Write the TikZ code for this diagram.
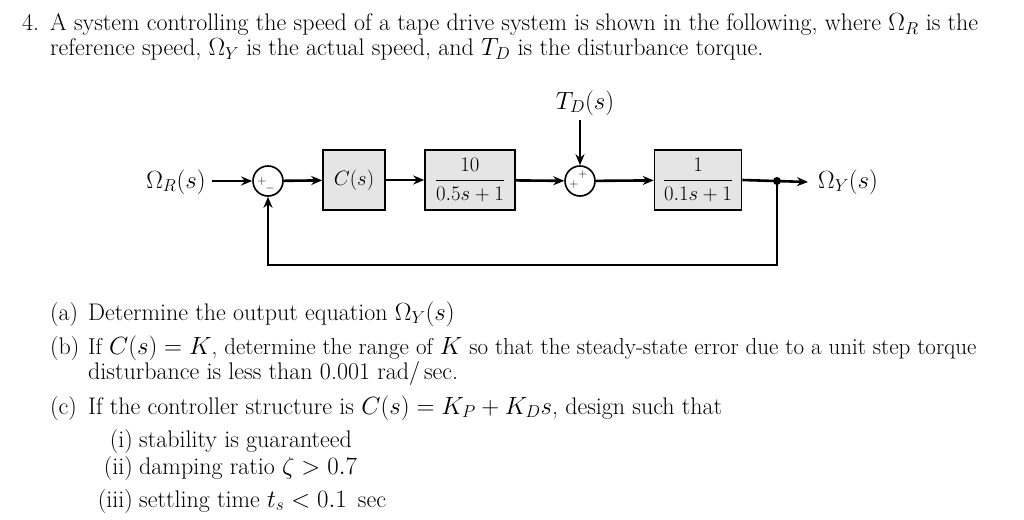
\documentclass[tikz,border=0pt]{standalone}
\usepackage{amsmath}
\usetikzlibrary{arrows.meta}
\begin{document}
\begin{tikzpicture}[x=1pt,y=-1pt,
  blk/.style={draw,line width=1.6pt,fill=gray!20,minimum height=60pt,inner sep=2pt,font=\fontsize{22}{26}\selectfont},
  sum/.style={draw,line width=1.6pt,circle,minimum size=30pt,inner sep=0pt},
  ln/.style={line width=2.6pt,-{Stealth[length=11pt,width=9pt]}},
  txt/.style={anchor=base west,inner sep=0pt,font=\fontsize{24}{28}\selectfont},
  lab/.style={font=\fontsize{23}{28}\selectfont,inner sep=0pt},
  sg/.style={font=\fontsize{13}{14}\selectfont,inner sep=0pt}]
\useasboundingbox (0,0) rectangle (1024,519);
\node[txt] (l0) at (22,31) {4.};
\node[txt] (l1) at (50,31) {A system controlling the speed of a tape drive system is shown in the following, where $\Omega_R$ is the};
\node[txt] (l2) at (50,56) {reference speed, $\Omega_Y$ is the actual speed, and $T_D$ is the disturbance torque.};
\node[lab] (in) at (176,182) {$\Omega_R(s)$};
\node[sum] (s1) at (268,181) {};
\node[sg] (p1) at (262,181) {$+$};
\node[sg] (m1) at (270,188) {$-$};
\node[blk,minimum width=62pt] (c) at (354,180) {$C(s)$};
\node[blk,minimum width=90pt] (g1) at (470,180) {$\dfrac{10}{0.5s+1}$};
\node[sum] (s2) at (580,181) {};
\node[sg] (p2) at (574,184) {$+$};
\node[sg] (p3) at (583,174) {$+$};
\node[lab] (td) at (585,103) {$T_D(s)$};
\coordinate (tdt) at (580,120);
\node[blk,minimum width=87pt] (g2) at (698,180) {$\dfrac{1}{0.1s+1}$};
\fill (777,181) circle (4pt) coordinate (j);
\node[lab,anchor=west] (out) at (818,182) {$\Omega_Y(s)$};
\coordinate (ins) at (212,181);
\coordinate (fb1) at (777,265);
\coordinate (fb2) at (268,265);
\draw[ln] (ins) -- (s1);
\draw[ln] (s1) -- (c);
\draw[ln] (c) -- (g1);
\draw[ln] (g1) -- (s2);
\draw[ln] (tdt) -- (s2);
\draw[ln] (s2) -- (g2);
\draw[ln] (g2.east) -- ([xshift=-10pt]out.west);
\draw[ln] (j) -- (fb1) -- (fb2) -- (s1);
\node[txt] (a) at (50,320) {(a)};
\node[txt] (at) at (88,320) {Determine the output equation $\Omega_Y(s)$};
\node[txt] (b) at (50,354) {(b)};
\node[txt,font=\fontsize{23}{28}\selectfont] (bt) at (88,354) {If $C(s)=K$, determine the range of $K$ so that the steady-state error due to a unit step torque};
\node[txt] (bt2) at (88,379) {disturbance is less than 0.001 rad/\,sec.};
\node[txt] (cc) at (50,414) {(c)};
\node[txt] (ct) at (88,414) {If the controller structure is $C(s)=K_P+K_Ds$, design such that};
\node[txt,anchor=base east] (i) at (133,447) {(i)};
\node[txt] (it) at (139,447) {stability is guaranteed};
\node[txt,anchor=base east] (ii) at (133,474) {(ii)};
\node[txt] (iit) at (139,474) {damping ratio $\zeta>0.7$};
\node[txt,anchor=base east] (iii) at (133,507) {(iii)};
\node[txt] (iiit) at (139,507) {settling time $t_s<0.1$\, sec};
\end{tikzpicture}
\end{document}
